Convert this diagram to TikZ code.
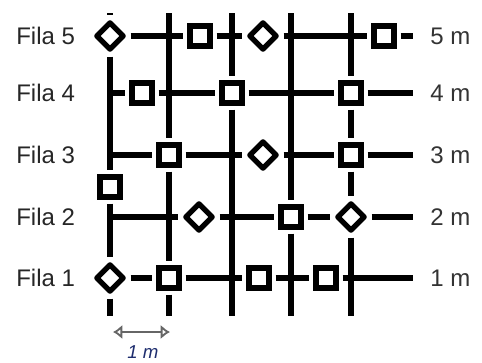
\documentclass[tikz,border=0pt]{standalone}
\usepackage{fontspec}
\setsansfont{Liberation Sans}
\usetikzlibrary{shapes.geometric,arrows.meta}

\begin{document}
\begin{tikzpicture}[x=0.75pt, y=-0.75pt,
    ln/.style={line width=4pt},
    sq/.style={draw, line width=4pt, fill=white, minimum size=15pt, inner sep=0pt, outer sep=5pt},
    dm/.style={draw, diamond, line width=4pt, line join=round, fill=white, minimum size=23pt, inner sep=0pt, outer sep=4pt},
    fila/.style={anchor=west, inner sep=0pt, font=\sffamily\fontsize{18}{18}\selectfont, text=black!85},
    dist/.style={anchor=west, inner sep=0pt, font=\sffamily\fontsize{18}{18}\selectfont, text=black!80}]
  \useasboundingbox (0,0) rectangle (482,362);
  % row labels
  \node[fila] (f5) at (16,36)  {Fila 5};
  \node[fila] (f4) at (16,93)  {Fila 4};
  \node[fila] (f3) at (16,155) {Fila 3};
  \node[fila] (f2) at (16,217) {Fila 2};
  \node[fila] (f1) at (16,278) {Fila 1};
  % distances
  \node[dist] (m5) at (430,36)  {5 m};
  \node[dist] (m4) at (430,93)  {4 m};
  \node[dist] (m3) at (430,155) {3 m};
  \node[dist] (m2) at (430,217) {2 m};
  \node[dist] (m1) at (430,278) {1 m};
  % free ends of the lines
  \coordinate (t1) at (110,13);  \coordinate (b1) at (110,316);
  \coordinate (t2) at (169,13);  \coordinate (b2) at (169,316);
  \coordinate (t3) at (232,13);  \coordinate (b3) at (232,316);
  \coordinate (t4) at (291,13);  \coordinate (b4) at (291,316);
  \coordinate (t5) at (351,13);  \coordinate (b5) at (351,316);
  \coordinate (r4s) at (110,93);  \coordinate (r4e) at (413,93);
  \coordinate (r3s) at (110,155); \coordinate (r3e) at (413,155);
  \coordinate (r2s) at (110,217); \coordinate (r2e) at (413,217);
  \coordinate (r5e) at (413,36);  \coordinate (r1e) at (413,278);
  % plants, row 5
  \node[dm] (r5a) at (110,36) {};
  \node[sq] (r5b) at (200,36) {};
  \node[dm] (r5c) at (263,36) {};
  \node[sq] (r5d) at (384,36) {};
  % row 4
  \node[sq] (r4a) at (142,93) {};
  \node[sq] (r4b) at (232,93) {};
  \node[sq] (r4c) at (351,93) {};
  % row 3
  \node[sq] (r3a) at (169,155) {};
  \node[dm] (r3b) at (263,155) {};
  \node[sq] (r3c) at (351,155) {};
  % between rows 3 and 2
  \node[sq] (x1) at (110,187) {};
  % row 2
  \node[dm] (r2a) at (199,217) {};
  \node[sq] (r2b) at (291,217) {};
  \node[dm] (r2c) at (351,217) {};
  % row 1
  \node[dm] (r1a) at (110,278) {};
  \node[sq] (r1b) at (169,278) {};
  \node[sq] (r1c) at (259,278) {};
  \node[sq] (r1d) at (326,278) {};
  % horizontal lines
  \draw[ln] (r5a) -- (r5b); \draw[ln] (r5b) -- (r5c);
  \draw[ln] (r5c) -- (r5d); \draw[ln] (r5d) -- (r5e);
  \draw[ln] (r4s) -- (r4a); \draw[ln] (r4a) -- (r4b);
  \draw[ln] (r4b) -- (r4c); \draw[ln] (r4c) -- (r4e);
  \draw[ln] (r3s) -- (r3a); \draw[ln] (r3a) -- (r3b);
  \draw[ln] (r3b) -- (r3c); \draw[ln] (r3c) -- (r3e);
  \draw[ln] (r2s) -- (r2a); \draw[ln] (r2a) -- (r2b);
  \draw[ln] (r2b) -- (r2c); \draw[ln] (r2c) -- (r2e);
  \draw[ln] (r1a) -- (r1b); \draw[ln] (r1b) -- (r1c);
  \draw[ln] (r1c) -- (r1d); \draw[ln] (r1d) -- (r1e);
  % vertical lines
  \draw[ln] (t1) -- (r5a); \draw[ln] (r5a) -- (x1);
  \draw[ln] (x1) -- (r1a); \draw[ln] (r1a) -- (b1);
  \draw[ln] (t2) -- (r3a); \draw[ln] (r3a) -- (r1b); \draw[ln] (r1b) -- (b2);
  \draw[ln] (t3) -- (r4b); \draw[ln] (r4b) -- (b3);
  \draw[ln] (t4) -- (r2b); \draw[ln] (r2b) -- (b4);
  \draw[ln] (t5) -- (r4c); \draw[ln] (r4c) -- (r3c);
  \draw[ln] (r3c) -- (r2c); \draw[ln] (r2c) -- (b5);
  % scale
  \coordinate (a1) at (113,332);
  \coordinate (a2) at (170,332);
  \draw[black!60, line width=1.5pt, {Latex[open,length=7pt,width=11pt]}-{Latex[open,length=7pt,width=11pt]}] (a1) -- (a2);
  \node[anchor=base, inner sep=0pt, font=\sffamily\itshape\fontsize{14}{14}\selectfont, text={rgb,255:red,30;green,45;blue,110}] (u) at (143,358) {1 m};
\end{tikzpicture}
\end{document}
